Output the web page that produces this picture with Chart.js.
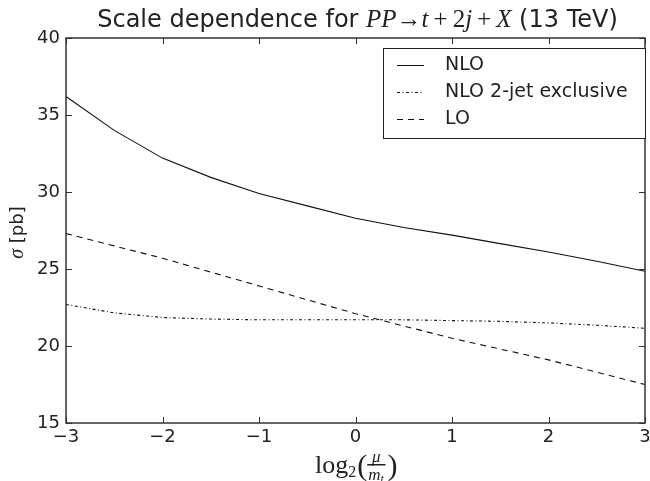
<!DOCTYPE html>
<html>
<head>
<meta charset="utf-8">
<script src="https://cdn.jsdelivr.net/npm/chart.js@4.4.1/dist/chart.umd.min.js"></script>
<style>
  html, body { margin: 0; padding: 0; background: #fff; }
  #wrap { width: 650px; height: 481px; }
</style>
</head>
<body>
<div id="wrap"><canvas id="scaleChart" width="650" height="481"></canvas></div>
<script>
// log2(mu / m_t) scan points
const muLog = [-3, -2.5, -2, -1.5, -1, -0.5, 0, 0.5, 1, 1.5, 2, 2.5, 3];

// cross sections in pb
const nlo     = [36.2, 34.0, 32.2, 30.95, 29.9, 29.1, 28.3, 27.7, 27.2, 26.65, 26.1, 25.5, 24.85];
const nloExcl = [22.7, 22.15, 21.85, 21.75, 21.7, 21.7, 21.7, 21.7, 21.65, 21.6, 21.5, 21.35, 21.15];
const lo      = [27.3, 26.5, 25.7, 24.8, 23.9, 23.0, 22.1, 21.3, 20.5, 19.8, 19.1, 18.3, 17.5];

const xTicks = [-3, -2, -1, 0, 1, 2, 3];
const yTicks = [15, 20, 25, 30, 35, 40];

const sans = '"DejaVu Sans", sans-serif';
const serif = '"Liberation Serif", "DejaVu Serif", serif';
const ink = '#222';

function pts(ys) {
    return muLog.map((x, i) => ({ x: x, y: ys[i] }));
}

// draws a run of [text, font, dy] pieces starting at x, returns the end x
function drawRun(ctx, parts, x, y) {
    parts.forEach(p => {
        ctx.font = p[1];
        ctx.fillText(p[0], x, y + (p[2] || 0));
        x += ctx.measureText(p[0]).width;
    });
    return x;
}
function runWidth(ctx, parts) {
    let w = 0;
    parts.forEach(p => { ctx.font = p[1]; w += ctx.measureText(p[0]).width; });
    return w;
}

const framePlugin = {
    id: 'frame',
    afterDraw(chart) {
        const ctx = chart.ctx;
        const a = chart.chartArea;
        const xs = chart.scales.x, ys = chart.scales.y;
        ctx.save();

        // axes box with inward ticks on every side
        ctx.strokeStyle = '#333';
        ctx.lineWidth = 1.5;
        ctx.strokeRect(a.left, a.top, a.right - a.left, a.bottom - a.top);
        ctx.lineWidth = 1;
        ctx.beginPath();
        xTicks.forEach(v => {
            const px = Math.round(xs.getPixelForValue(v)) + 0.5;
            ctx.moveTo(px, a.bottom); ctx.lineTo(px, a.bottom - 6);
            ctx.moveTo(px, a.top); ctx.lineTo(px, a.top + 6);
        });
        yTicks.forEach(v => {
            const py = Math.round(ys.getPixelForValue(v)) + 0.5;
            ctx.moveTo(a.left, py); ctx.lineTo(a.left + 6, py);
            ctx.moveTo(a.right, py); ctx.lineTo(a.right - 6, py);
        });
        ctx.stroke();

        ctx.fillStyle = ink;
        ctx.textBaseline = 'alphabetic';
        ctx.textAlign = 'left';

        // title
        const tf = '24px ' + sans;
        const mi = 'italic 25px ' + serif;
        const mr = '25px ' + serif;
        const title = [
            ['Scale dependence for ', tf],
            ['PP', mi], ['\u2192', mr], ['t', mi], ['\u2009+\u2009', mr], ['2', mr], ['j', mi],
            ['\u2009+\u2009', mr], ['X', mi], [' (13 TeV)', tf]
        ];
        const cx = (a.left + a.right) / 2;
        drawRun(ctx, title, cx - runWidth(ctx, title) / 2 + 2, 27);

        // x axis title: log2(mu / m_t)
        let x = 315, y = 473;
        ctx.font = '26px ' + serif; ctx.fillText('log', x, y); x += ctx.measureText('log').width;
        ctx.font = '16px ' + serif; ctx.fillText('2', x, y + 4); x += ctx.measureText('2').width + 1;
        ctx.font = '30px ' + serif; ctx.fillText('(', x, y + 2); x += ctx.measureText('(').width;
        ctx.font = 'italic 17px ' + serif;
        const fw = ctx.measureText('m').width + 6;
        ctx.textAlign = 'center';
        ctx.fillText('\u03bc', x + fw / 2, y - 11);
        ctx.fillRect(x, y - 9, fw, 1.5);
        ctx.textAlign = 'left';
        ctx.fillText('m', x + 1, y + 7);
        const mw = ctx.measureText('m').width;
        ctx.font = 'italic 12px ' + serif;
        ctx.fillText('t', x + 1 + mw, y + 10);
        x += fw + 2;
        ctx.font = '30px ' + serif; ctx.fillText(')', x, y + 2);

        // y axis title
        ctx.save();
        ctx.translate(23, (a.top + a.bottom) / 2 + 2);
        ctx.rotate(-Math.PI / 2);
        const yl = [['\u03c3', 'italic 20px ' + serif], [' [pb]', '18px ' + sans]];
        drawRun(ctx, yl, -runWidth(ctx, yl) / 2, 0);
        ctx.restore();

        // legend
        const lx = 383, ly = 48, lw = 262, lh = 90;
        ctx.fillStyle = '#fff';
        ctx.fillRect(lx, ly, lw, lh);
        ctx.strokeStyle = '#222';
        ctx.lineWidth = 1;
        ctx.strokeRect(lx + 0.5, ly + 0.5, lw, lh);
        ctx.font = '19px ' + sans;
        ctx.textBaseline = 'middle';
        chart.data.datasets.forEach((ds, i) => {
            const ey = ly + 17 + i * 27;
            ctx.strokeStyle = ds.borderColor;
            ctx.setLineDash(ds.borderDash || []);
            ctx.beginPath();
            ctx.moveTo(lx + 14, ey + 0.5);
            ctx.lineTo(lx + 41, ey + 0.5);
            ctx.stroke();
            ctx.setLineDash([]);
            ctx.fillStyle = ink;
            ctx.fillText(ds.label, lx + 62, ey);
        });
        ctx.restore();
    }
};

const ctx = document.getElementById('scaleChart').getContext('2d');
const scaleChart = new Chart(ctx, {
    type: 'line',
    data: {
        datasets: [
            { label: 'NLO', data: pts(nlo), borderColor: '#111', borderWidth: 1.1 },
            { label: 'NLO 2-jet exclusive', data: pts(nloExcl), borderColor: '#111', borderWidth: 1.1, borderDash: [3, 2.5, 1, 2.5] },
            { label: 'LO', data: pts(lo), borderColor: '#111', borderWidth: 1.1, borderDash: [6, 5] }
        ]
    },
    options: {
        responsive: false,
        animation: false,
        layout: { padding: { top: 38, right: 5, left: 0, bottom: 0 } },
        elements: { point: { radius: 0 }, line: { tension: 0, fill: false } },
        plugins: { legend: { display: false }, title: { display: false }, tooltip: { enabled: false } },
        scales: {
            x: {
                type: 'linear', min: -3, max: 3,
                grid: { display: false, drawTicks: false },
                border: { display: false },
                afterFit: s => { s.height = 58; s.paddingLeft = 0; s.paddingRight = 0; },
                afterBuildTicks: s => { s.ticks = xTicks.map(v => ({ value: v })); },
                ticks: {
                    color: ink, padding: 4,
                    font: { family: 'DejaVu Sans', size: 18 },
                    maxRotation: 0,
                    callback: v => String(v).replace('-', '\u2212')
                }
            },
            y: {
                min: 15, max: 40,
                grid: { display: false, drawTicks: false },
                border: { display: false },
                afterFit: s => { s.width = 66; s.paddingTop = 0; s.paddingBottom = 0; },
                afterBuildTicks: s => { s.ticks = yTicks.map(v => ({ value: v })); },
                ticks: {
                    color: ink, padding: 6,
                    font: { family: 'DejaVu Sans', size: 18 }
                }
            }
        }
    },
    plugins: [framePlugin]
});
</script>
</body>
</html>
